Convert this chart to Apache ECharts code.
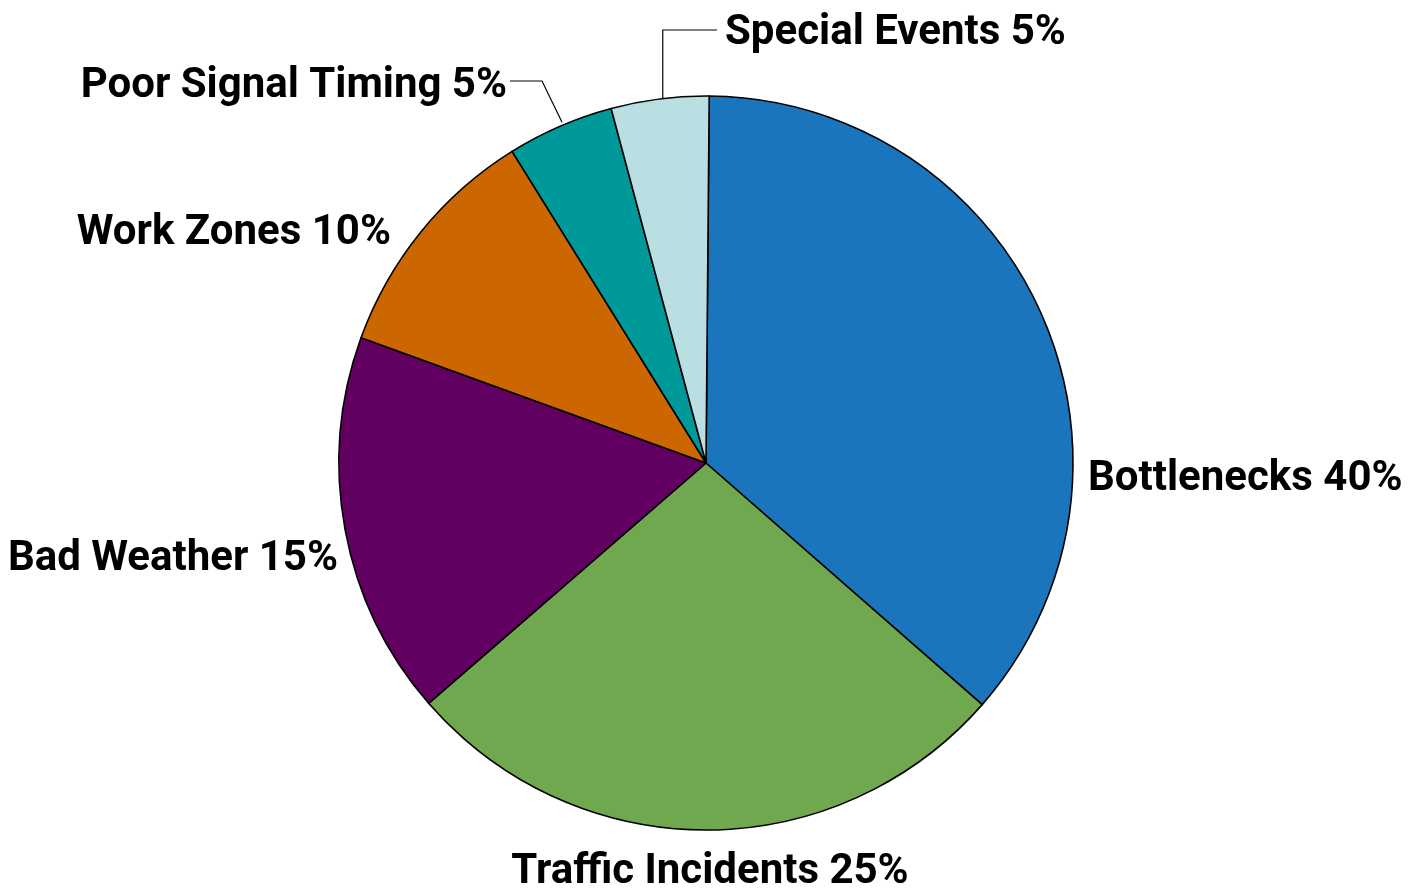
<!DOCTYPE html>
<html>
<head>
<meta charset="utf-8">
<style>
  html, body { margin: 0; padding: 0; background: #ffffff; }
  #chart { width: 1410px; height: 893px; }
</style>
<script src="https://cdn.jsdelivr.net/npm/echarts@6/dist/echarts.min.js"></script>
</head>
<body>
<div id="chart"></div>
<script>
// ---- data ----
var categories = ['Bottlenecks', 'Traffic Incidents', 'Bad Weather', 'Work Zones', 'Poor Signal Timing', 'Special Events'];
var sliceValues = [36.3, 27.2, 16.9, 10.6, 4.7, 4.3];
// percentages printed in the labels
var labelPercents = [40, 25, 15, 10, 5, 5];

// ---- styles / layout ----
var colors = ['#1b75bc', '#6fa84e', '#610060', '#cc6600', '#009999', '#b9dfe3'];
var CX = 706, CY = 463, R = 367;
var START_ANGLE = 89.5; // degrees, echarts convention (counter-clockwise from east)
var labelLayoutTable = [
  { x: 1088, y: 479, align: 'left' },
  { x: 710, y: 872, align: 'center' },
  { x: 338, y: 559, align: 'right' },
  { x: 391, y: 233, align: 'right' },
  { x: 507, y: 86, align: 'right', line: 'poor' },
  { x: 725, y: 33, align: 'left', line: 'special' }
];

var total = sliceValues.reduce(function (a, b) { return a + b; }, 0);
function midAngle(i) {
  // clockwise from top, radians
  var acc = 0;
  for (var k = 0; k < i; k++) acc += sliceValues[k];
  var startDeg = 90 - START_ANGLE;
  var deg = startDeg + (acc + sliceValues[i] / 2) / total * 360;
  return deg * Math.PI / 180;
}

var data = categories.map(function (name, i) {
  return {
    name: name,
    value: sliceValues[i],
    itemStyle: { color: colors[i] },
    labelLine: { show: !!labelLayoutTable[i].line }
  };
});

var chart = echarts.init(document.getElementById('chart'), null, { renderer: 'canvas' });
chart.setOption({
  animation: false,
  backgroundColor: '#ffffff',
  series: [{
    type: 'pie',
    center: [CX, CY],
    radius: R,
    startAngle: START_ANGLE,
    clockwise: true,
    avoidLabelOverlap: false,
    data: data,
    itemStyle: { borderColor: '#000000', borderWidth: 1.6 },
    emphasis: { disabled: true },
    label: {
      show: true,
      position: 'outside',
      formatter: function (p) { return p.name + ' ' + labelPercents[p.dataIndex] + '%'; },
      fontFamily: 'Roboto',
      fontWeight: 'bold',
      fontSize: 42,
      color: '#000000'
    },
    labelLine: {
      show: true,
      lineStyle: { color: '#000000', width: 1.2 }
    },
    labelLayout: function (p) {
      var i = p.dataIndex;
      var L = labelLayoutTable[i];
      var out = { x: L.x, y: L.y, align: L.align, verticalAlign: 'middle' };
      if (L.line) {
        var th = midAngle(i);
        var sx = CX + R * Math.sin(th), sy = CY - R * Math.cos(th);
        if (L.line === 'special') {
          out.labelLinePoints = [[sx + 3, sy], [sx + 3, L.y - 3], [L.x - 8, L.y - 3]];
        } else {
          out.labelLinePoints = [[sx + 2, sy - 4], [sx - 18, L.y - 5], [L.x + 3, L.y - 5]];
        }
      }
      return out;
    }
  }]
});
</script>
</body>
</html>
